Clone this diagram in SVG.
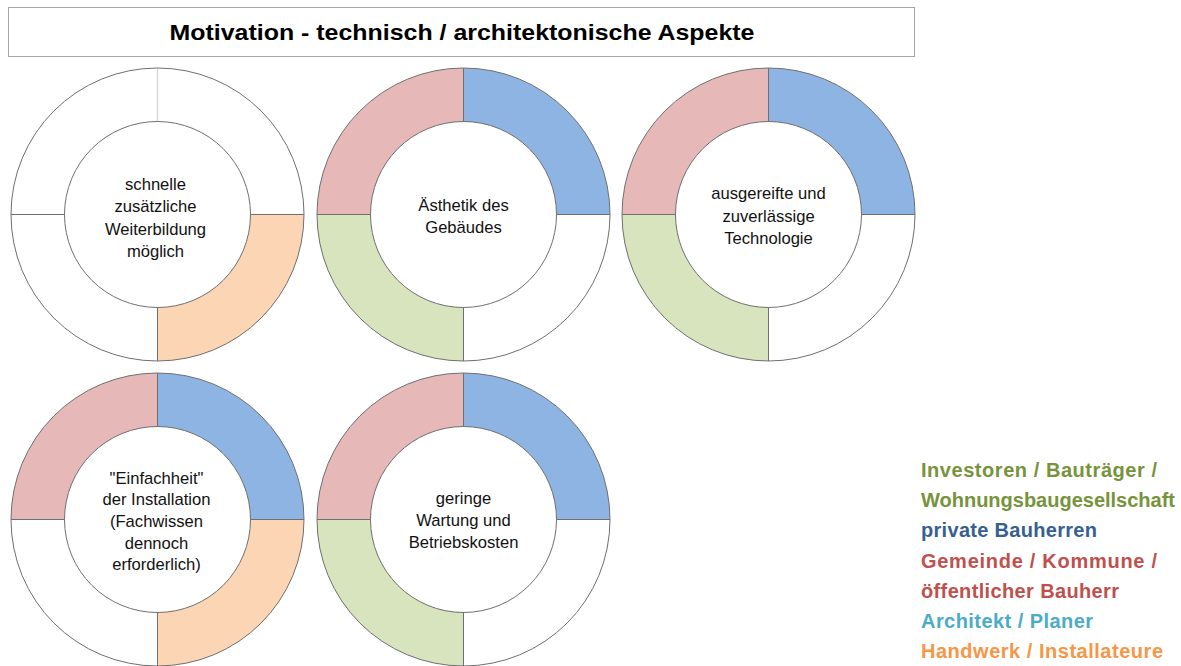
<svg xmlns="http://www.w3.org/2000/svg" xmlns:xlink="http://www.w3.org/1999/xlink" width="1181" height="666" viewBox="0 0 1181 666">
<style>
.seg{stroke:#6f6f6f;stroke-width:1}
.w{fill:#ffffff}
.b{fill:#8EB4E3}
.p{fill:#E6B9B8}
.g{fill:#D7E4BD}
.o{fill:#FCD5B5}
.lbl{font-family:"Liberation Sans",Arial,sans-serif;font-size:16.6px;fill:#111111;text-anchor:middle}
.leg{font-family:"Liberation Sans",Arial,sans-serif;font-size:20px;font-weight:bold}
.title{font-family:"Liberation Sans",Arial,sans-serif;font-size:22px;font-weight:bold;fill:#000000;text-anchor:middle}
</style>
<defs>
<path id="qTR" d="M0,-146.5 A146.5,146.5 0 0 1 146.5,0 L93,0 A93,93 0 0 0 0,-93 Z"/>
<path id="qBR" d="M146.5,0 A146.5,146.5 0 0 1 0,146.5 L0,93 A93,93 0 0 0 93,0 Z"/>
<path id="qBL" d="M0,146.5 A146.5,146.5 0 0 1 -146.5,0 L-93,0 A93,93 0 0 0 0,93 Z"/>
<path id="qTL" d="M-146.5,0 A146.5,146.5 0 0 1 0,-146.5 L0,-93 A93,93 0 0 0 -93,0 Z"/>
</defs>
<rect x="0" y="0" width="1181" height="666" fill="#ffffff"/>
<g id="title">
<rect x="8.5" y="7.5" width="906" height="49" fill="#ffffff" stroke="#a6a6a6" stroke-width="1"/>
<text class="title" x="462" y="40" textLength="585" lengthAdjust="spacingAndGlyphs">Motivation - technisch / architektonische Aspekte</text>
</g>
<g id="donut1" transform="translate(157.5,214.5)">
<use href="#qTR" class="seg w"/>
<use href="#qTL" class="seg w"/>
<use href="#qBL" class="seg w"/>
<use href="#qBR" class="seg o"/>
<line x1="0" y1="-93.5" x2="0" y2="-146" stroke="#d9d9d9" stroke-width="1.5"/>
<text class="lbl" x="-2" y="-24.5">schnelle</text>
<text class="lbl" x="-2" y="-2.5">zusätzliche</text>
<text class="lbl" x="-2" y="20">Weiterbildung</text>
<text class="lbl" x="-2" y="42">möglich</text>
</g>
<g id="donut2" transform="translate(463.5,214.5)">
<use href="#qTR" class="seg b"/>
<use href="#qTL" class="seg p"/>
<use href="#qBL" class="seg g"/>
<use href="#qBR" class="seg w"/>
<text class="lbl" x="0" y="-4">Ästhetik des</text>
<text class="lbl" x="0" y="18.5">Gebäudes</text>
</g>
<g id="donut3" transform="translate(768.5,214.5)">
<use href="#qTR" class="seg b"/>
<use href="#qTL" class="seg p"/>
<use href="#qBL" class="seg g"/>
<use href="#qBR" class="seg w"/>
<text class="lbl" x="0" y="-15.5">ausgereifte und</text>
<text class="lbl" x="0" y="7">zuverlässige</text>
<text class="lbl" x="0" y="29.5">Technologie</text>
</g>
<g id="donut4" transform="translate(157.5,519.5)">
<use href="#qTR" class="seg b"/>
<use href="#qTL" class="seg p"/>
<use href="#qBL" class="seg w"/>
<use href="#qBR" class="seg o"/>
<text class="lbl" x="-1" y="-36">"Einfachheit"</text>
<text class="lbl" x="-1" y="-14.5">der Installation</text>
<text class="lbl" x="-1" y="7">(Fachwissen</text>
<text class="lbl" x="-1" y="29">dennoch</text>
<text class="lbl" x="-1" y="50.5">erforderlich)</text>
</g>
<g id="donut5" transform="translate(463.5,519.5)">
<use href="#qTR" class="seg b"/>
<use href="#qTL" class="seg p"/>
<use href="#qBL" class="seg g"/>
<use href="#qBR" class="seg w"/>
<text class="lbl" x="0" y="-16">geringe</text>
<text class="lbl" x="0" y="6.5">Wartung und</text>
<text class="lbl" x="0" y="28.5">Betriebskosten</text>
</g>
<g id="legend">
<text class="leg" x="921" y="477" fill="#77933C" textLength="236">Investoren / Bauträger /</text>
<text class="leg" x="921" y="507" fill="#77933C" textLength="254">Wohnungsbaugesellschaft</text>
<text class="leg" x="921" y="537" fill="#376092" textLength="176">private Bauherren</text>
<text class="leg" x="921" y="567.5" fill="#C0504D" textLength="236">Gemeinde / Kommune /</text>
<text class="leg" x="921" y="597.5" fill="#C0504D" textLength="198">öffentlicher Bauherr</text>
<text class="leg" x="921" y="628" fill="#4BACC6" textLength="172">Architekt / Planer</text>
<text class="leg" x="921" y="658" fill="#F79646" textLength="242">Handwerk / Installateure</text>
</g>
<g id="connectors"/>
</svg>
